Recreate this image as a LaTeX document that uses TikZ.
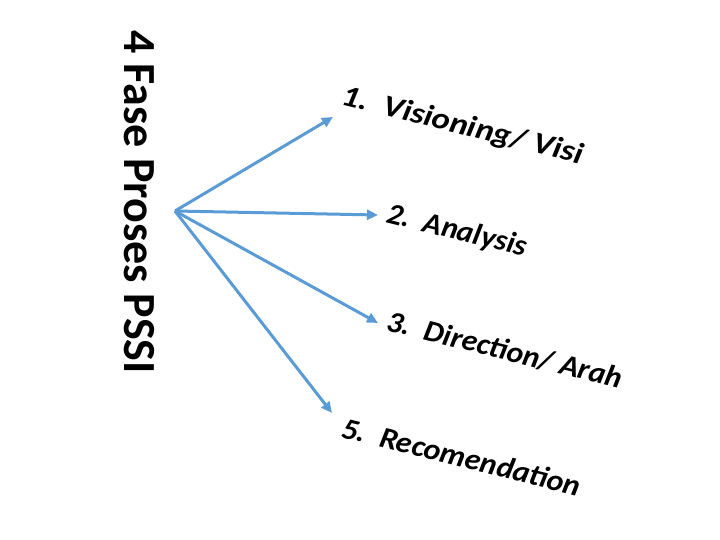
\documentclass[tikz,border=0pt]{standalone}
\usepackage{fontspec}
\setmainfont{Carlito}
\usetikzlibrary{arrows.meta}
\definecolor{arrowblue}{HTML}{5B9BD5}
\tikzset{
  conn/.style={draw=arrowblue, line width=3pt, -{Triangle[length=11pt,width=10pt]}},
  lbl/.style={anchor=base west, rotate=-14, inner sep=0pt, font=\fontsize{30}{36}\selectfont\bfseries\itshape},
  ttl/.style={anchor=base west, rotate=-90, inner sep=0pt, font=\fontsize{46}{52}\selectfont\bfseries}
}
\begin{document}
\begin{tikzpicture}[x=1pt,y=-1pt]
\useasboundingbox (0,0) rectangle (720,540);
\node[ttl] (title) at (124,30) {4 Fase Proses PSSI};
\coordinate (o) at (175,211);
\coordinate (t1) at (333,117);
\coordinate (t2) at (378,215);
\coordinate (t3) at (378,323);
\coordinate (t5) at (332,413);
\node[lbl, xscale=1.15] (l1) at (340,104) {1.\ \ Visioning/ Visi};
\node[lbl, xscale=1.03] (l2) at (385,222) {2.\ \ Analysis};
\node[lbl, xscale=1.05] (l3) at (385,330) {3.\ \ Direction/ Arah};
\node[lbl, xscale=1.06] (l5) at (340,437) {5.\ \ Recomendation};
\draw[conn] (o) -- (t1);
\draw[conn] (o) -- (t2);
\draw[conn] (o) -- (t3);
\draw[conn] (o) -- (t5);
\end{tikzpicture}
\end{document}
